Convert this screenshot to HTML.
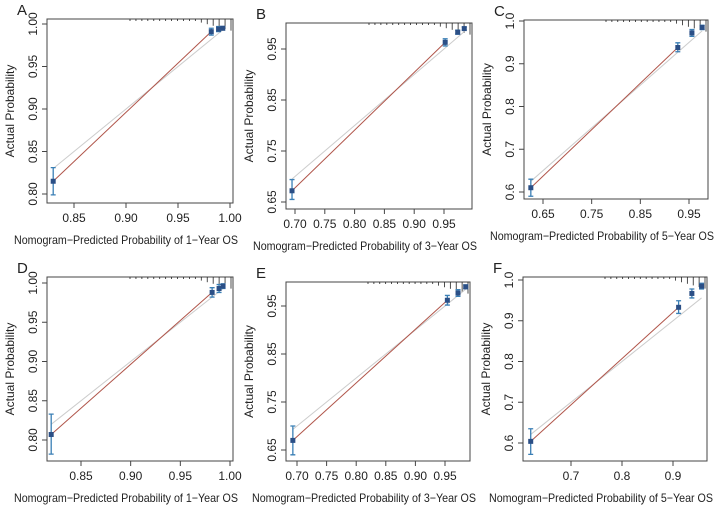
<!DOCTYPE html>
<html><head><meta charset="utf-8"><style>
body{margin:0;background:#fff;}
svg{display:block;font-family:"Liberation Sans",Arial,sans-serif;}
</style></head><body>
<svg id="chart" width="715" height="507" viewBox="0 0 715 507"></svg>
<script>
// Panel data
const panelLabels = ["A","B","C","D","E","F"];
const xTitles = ["Nomogram\u2212Predicted Probability of 1\u2212Year OS","Nomogram\u2212Predicted Probability of 3\u2212Year OS","Nomogram\u2212Predicted Probability of 5\u2212Year OS","Nomogram\u2212Predicted Probability of 1\u2212Year OS","Nomogram\u2212Predicted Probability of 3\u2212Year OS","Nomogram\u2212Predicted Probability of 5\u2212Year OS"];
const predA = [0.83, 0.982, 0.989, 0.993];
const obsA  = [0.815, 0.991, 0.994, 0.995];
const loA   = [0.799, 0.987, 0.991, 0.993];
const hiA   = [0.831, 0.995, 0.997, 0.997];
const predB = [0.695, 0.952, 0.973, 0.984];
const obsB  = [0.672, 0.963, 0.983, 0.99];
const loB   = [0.655, 0.956, 0.979, 0.987];
const hiB   = [0.694, 0.970, 0.987, 0.993];
const predC = [0.625, 0.927, 0.956, 0.977];
const obsC  = [0.61, 0.938, 0.972, 0.985];
const loC   = [0.59, 0.928, 0.964, 0.980];
const hiC   = [0.63, 0.949, 0.980, 0.990];
const predD = [0.82, 0.982, 0.989, 0.993];
const obsD  = [0.807, 0.988, 0.993, 0.996];
const loD   = [0.782, 0.982, 0.988, 0.993];
const hiD   = [0.833, 0.994, 0.998, 0.999];
const predE = [0.693, 0.954, 0.972, 0.985];
const obsE  = [0.67, 0.962, 0.977, 0.99];
const loE   = [0.64, 0.952, 0.970, 0.986];
const hiE   = [0.70, 0.972, 0.984, 0.994];
const predF = [0.621, 0.911, 0.937, 0.956];
const obsF  = [0.604, 0.933, 0.967, 0.985];
const loF   = [0.572, 0.918, 0.956, 0.978];
const hiF   = [0.635, 0.949, 0.978, 0.992];
const xTicksA = ["0.85","0.90","0.95","1.00"], yTicksA = ["0.80","0.85","0.90","0.95","1.00"];
const xTicksB = ["0.70","0.75","0.80","0.85","0.90","0.95"], yTicksB = ["0.65","0.75","0.85","0.95"];
const xTicksC = ["0.65","0.75","0.85","0.95"], yTicksC = ["0.6","0.7","0.8","0.9","1.0"];
const xTicksF = ["0.7","0.8","0.9"];

const panels = [
 {pred:predA,obs:obsA,lo:loA,hi:hiA,xt:xTicksA,yt:yTicksA,box:[47,233,19,203],xm:[0.85,74,1.0,230],ym:[0.80,194,1.0,24]},
 {pred:predB,obs:obsB,lo:loB,hi:hiB,xt:xTicksB,yt:yTicksB,box:[286,472,23,209],xm:[0.70,295,0.95,444],ym:[0.65,202,0.95,49]},
 {pred:predC,obs:obsC,lo:loC,hi:hiC,xt:xTicksC,yt:yTicksC,box:[524,708,20,199],xm:[0.65,543,0.95,689],ym:[0.6,192,1.0,21]},
 {pred:predD,obs:obsD,lo:loD,hi:hiD,xt:xTicksA,yt:yTicksA,box:[47,233,277,461],xm:[0.85,81,1.0,230],ym:[0.80,440,1.0,283]},
 {pred:predE,obs:obsE,lo:loE,hi:hiE,xt:xTicksB,yt:yTicksB,box:[286,470,282,461],xm:[0.70,297,0.95,445],ym:[0.65,450,0.95,306]},
 {pred:predF,obs:obsF,lo:loF,hi:hiF,xt:xTicksF,yt:yTicksC,box:[523,707,277,461],xm:[0.7,571,0.9,673],ym:[0.6,443,1.0,280]}
];
const NS="http://www.w3.org/2000/svg";
const svg=document.getElementById("chart");
function mk(tag,attrs,parent){const e=document.createElementNS(NS,tag);for(const k in attrs)e.setAttribute(k,attrs[k]);(parent||svg).appendChild(e);return e;}
panels.forEach((p,i)=>{
  const g=mk("g",{});
  
  
  const sx=v=>p.xm[1]+(v-p.xm[0])*(p.xm[3]-p.xm[1])/(p.xm[2]-p.xm[0]);
  const sy=v=>p.ym[1]+(v-p.ym[0])*(p.ym[3]-p.ym[1])/(p.ym[2]-p.ym[0]);
  const [l,r,t,b]=p.box;
  const lab=mk("text",{x:l-30,y:t-4,"font-size":15,fill:"#222"},g);lab.textContent=panelLabels[i];
  
  
  const bx=mk("rect",{x:l,y:t,width:r-l,height:b-t,fill:"none",stroke:"#444","stroke-width":1},g);
  
  
  p.xt.forEach(s=>{const v=parseFloat(s),x=sx(v);
    mk("line",{x1:x,x2:x,y1:b,y2:b+5,stroke:"#444"},g);
    const tx=mk("text",{x:x,y:b+19,"font-size":12,"text-anchor":"middle",fill:"#222"},g);tx.textContent=s;
    
    });
  p.yt.forEach(s=>{const v=parseFloat(s),y=sy(v);
    mk("line",{x1:l-5,x2:l,y1:y,y2:y,stroke:"#444"},g);
    const tx=mk("text",{x:0,y:0,"font-size":12,"text-anchor":"middle",fill:"#222",transform:`translate(${l-10},${y}) rotate(-90)`},g);tx.textContent=s;
    
    });
  const xtl=mk("text",{x:(l+r)/2-14,y:b+41,"font-size":12,"text-anchor":"middle",fill:"#222",textLength:224,lengthAdjust:"spacingAndGlyphs"},g);xtl.textContent=xTitles[i];
  
  
  const ytl=mk("text",{x:0,y:0,"font-size":12,"text-anchor":"middle",fill:"#222",transform:`translate(${l-33},${(t+b)/2}) rotate(-90)`},g);ytl.textContent="Actual Probability";
  
  
  const n=p.pred.length;const x0=(l+r)/2-10;
  for(let k=0;k<18;k++){const x=x0+(r-2-x0)*k/17;const len=k<12?2:2+(k-11)*1.6;
    const rl=mk("line",{x1:x,x2:x,y1:t,y2:t+len,stroke:"#222","stroke-width":0.8},g);
    
    }
  const d=mk("line",{x1:sx(p.pred[0]),y1:sy(p.pred[0]),x2:sx(p.pred[n-1]),y2:sy(p.pred[n-1]),stroke:"#ccc","stroke-width":1},g);
  
  
  const cl=mk("line",{x1:sx(p.pred[0]),y1:sy(p.obs[0]),x2:sx(p.pred[1]),y2:sy(p.obs[1]),stroke:"#b0554a","stroke-width":1},g);
  
  
  for(let k=0;k<n;k++){
    const x=sx(p.pred[k]);
    const eb=mk("path",{d:`M${x},${sy(p.lo[k])}V${sy(p.hi[k])}M${x-2.5},${sy(p.lo[k])}H${x+2.5}M${x-2.5},${sy(p.hi[k])}H${x+2.5}`,stroke:"#3a7fb5","stroke-width":1.3,fill:"none"},g);
    
    
    const pt=mk("rect",{x:x-2.5,y:sy(p.obs[k])-2.5,width:5,height:5,fill:"#2b4f86"},g);
    
    
  }
});
</script>
</body></html>
